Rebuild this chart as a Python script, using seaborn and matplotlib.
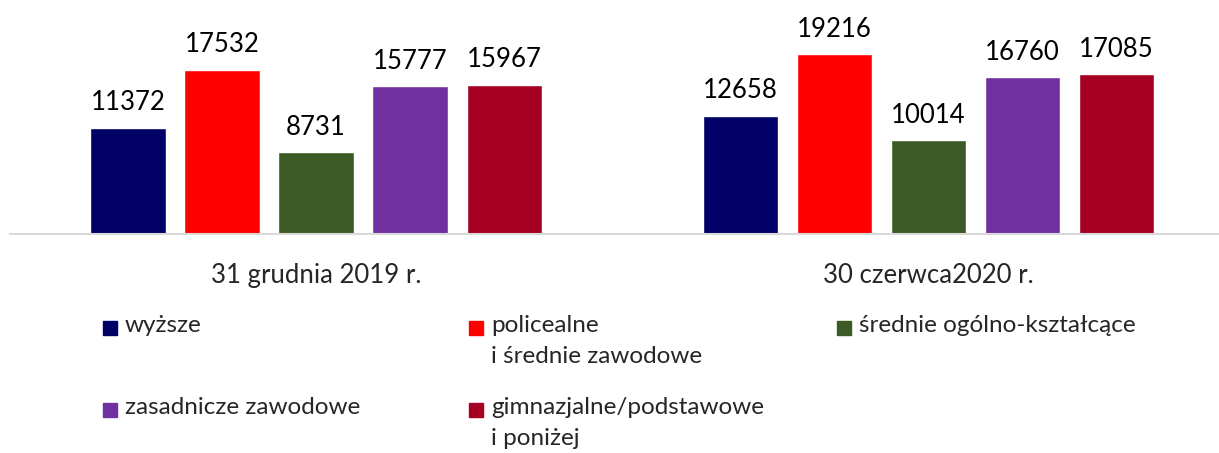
import pandas as pd
import matplotlib
matplotlib.use("Agg")
import matplotlib.pyplot as plt
from matplotlib.patches import Rectangle
import seaborn as sns

# data
periods = ["31 grudnia 2019 r.", "30 czerwca2020 r."]
levels = ["wyższe", "policealne\ni średnie zawodowe", "średnie ogólno-kształcące",
          "zasadnicze zawodowe", "gimnazjalne/podstawowe\ni poniżej"]
values_2019 = [11372, 17532, 8731, 15777, 15967]
values_2020 = [12658, 19216, 10014, 16760, 17085]
colors = ["#000066", "#FF0000", "#3B5A25", "#7030A0", "#A50021"]

rows = []
for lvl, v1, v2 in zip(levels, values_2019, values_2020):
    rows.append({"period": periods[0], "level": lvl, "value": v1})
    rows.append({"period": periods[1], "level": lvl, "value": v2})
df = pd.DataFrame(rows)

sns.set_style("white")
plt.rcParams["font.family"] = ["Lato", "DejaVu Sans"]

W, H = 1219, 453
fig = plt.figure(figsize=(W / 100, H / 100), dpi=100)
ax = fig.add_axes([10 / W, 1 - 234 / H, 1 - 10 / W, 234 / H])

sns.barplot(data=df, x="period", y="value", hue="level", order=periods,
            hue_order=levels, palette=colors, width=0.768, gap=0.2,
            saturation=1, legend=False, ax=ax, errorbar=None)

for cont in ax.containers:
    ax.bar_label(cont, padding=9, fontsize=18.5, color="#000000")

ax.set_ylim(0, 25000)
ax.set_xlim(-0.5, 1.475)
ax.set_xlabel("")
ax.set_ylabel("")
ax.set_yticks([])
ax.tick_params(axis="x", length=0, pad=21, labelsize=18.5)
for s in ["top", "left", "right"]:
    ax.spines[s].set_visible(False)
ax.spines["bottom"].set_color("#d9d9d9")
ax.spines["bottom"].set_linewidth(1.5)

# legend, laid out in fixed columns like the original
legend_pos = [(103, 328), (469, 328), (837, 328), (103, 410), (469, 410)]
for lvl, col, (px, py) in zip(levels, colors, legend_pos):
    fig.patches.append(Rectangle((px / W, 1 - (py + 7) / H), 14 / W, 14 / H,
                                 transform=fig.transFigure, color=col))
    fig.text((px + 22) / W, 1 - (py - 13) / H, lvl, fontsize=17.5, va="top",
             ha="left", linespacing=1.6)

fig.savefig("out.png", dpi=100)
